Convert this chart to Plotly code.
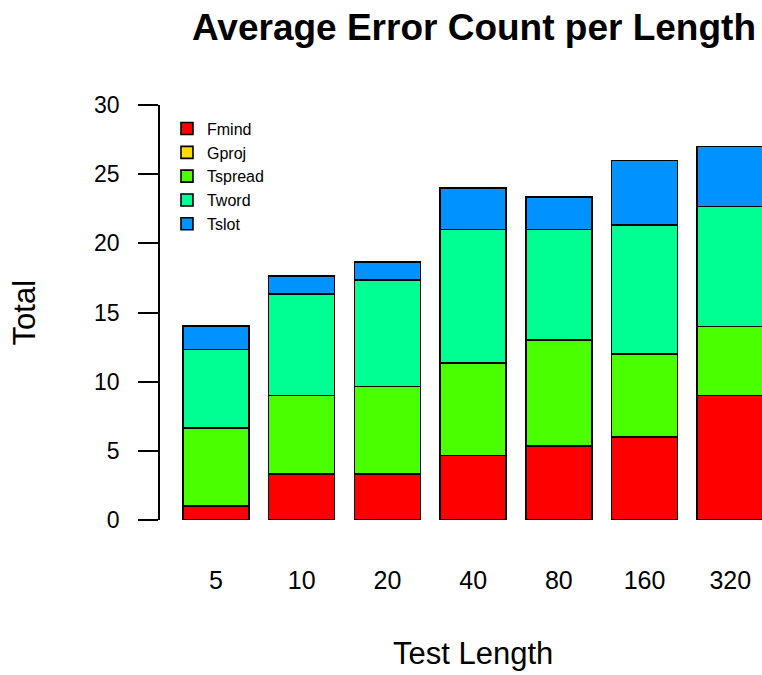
import plotly.graph_objects as go

# test lengths (x categories)
lengths = ["5", "10", "20", "40", "80", "160", "320"]

# average error counts per series (stacked)
fmind = [1.0, 3.33, 3.33, 4.67, 5.33, 6.0, 9.0]
gproj = [0, 0, 0, 0, 0, 0, 0]
tspread = [5.67, 5.67, 6.33, 6.67, 7.67, 6.0, 5.0]
tword = [5.67, 7.33, 7.67, 9.67, 8.0, 9.33, 8.67]
tslot = [1.67, 1.33, 1.33, 3.0, 2.33, 4.67, 4.33]

series = [
    ("Fmind", fmind, "#FF0000"),
    ("Gproj", gproj, "#FFDB00"),
    ("Tspread", tspread, "#49FF00"),
    ("Tword", tword, "#00FF92"),
    ("Tslot", tslot, "#0092FF"),
]

fig = go.Figure()
for name, vals, col in series:
    fig.add_trace(go.Bar(
        x=lengths, y=vals, name=name,
        marker=dict(color=col, line=dict(color="black", width=1.6)),
    ))

W, H = 762, 675
fig.update_layout(
    barmode="stack",
    bargap=0.23,
    width=W, height=H,
    margin=dict(l=160, r=0, t=105, b=155),
    plot_bgcolor="white",
    paper_bgcolor="white",
    font=dict(family="Liberation Sans, Arial, sans-serif", size=23, color="black"),
    title=dict(
        text="<b>Average Error Count per Length</b>",
        x=474 / W, xanchor="center",
        y=1 - 27 / H, yanchor="middle",
        font=dict(size=37),
    ),
    legend=dict(
        x=0.0116, y=0.984, xanchor="left", yanchor="top",
        font=dict(size=16),
        bgcolor="rgba(0,0,0,0)",
        traceorder="normal",
    ),
    showlegend=True,
)

# axis titles placed like R's mtext lines
fig.add_annotation(text="Total", xref="paper", yref="paper",
                   x=-0.2251, y=0.499, textangle=-90, showarrow=False,
                   xanchor="center", yanchor="middle", font=dict(size=31))
fig.add_annotation(text="Test Length", xref="paper", yref="paper",
                   x=0.52, y=-0.322, showarrow=False,
                   xanchor="center", yanchor="middle", font=dict(size=31))

fig.update_xaxes(
    range=[-0.653, 6.37],
    showline=False, showgrid=False, zeroline=False,
    ticks="", ticklabelstandoff=43,
    tickfont=dict(size=25),
)
fig.update_yaxes(
    range=[0, 30],
    tickvals=[0, 5, 10, 15, 20, 25, 30],
    showline=True, linecolor="black", linewidth=1.5,
    showgrid=False, zeroline=False,
    ticks="outside", ticklen=20, tickwidth=1.5, tickcolor="black",
    ticklabelstandoff=14,
)

# drop the default body margin so the figure fills the window exactly
fig.write_html("out.html", config={"displayModeBar": False},
               post_script="document.body.style.margin='0';")
